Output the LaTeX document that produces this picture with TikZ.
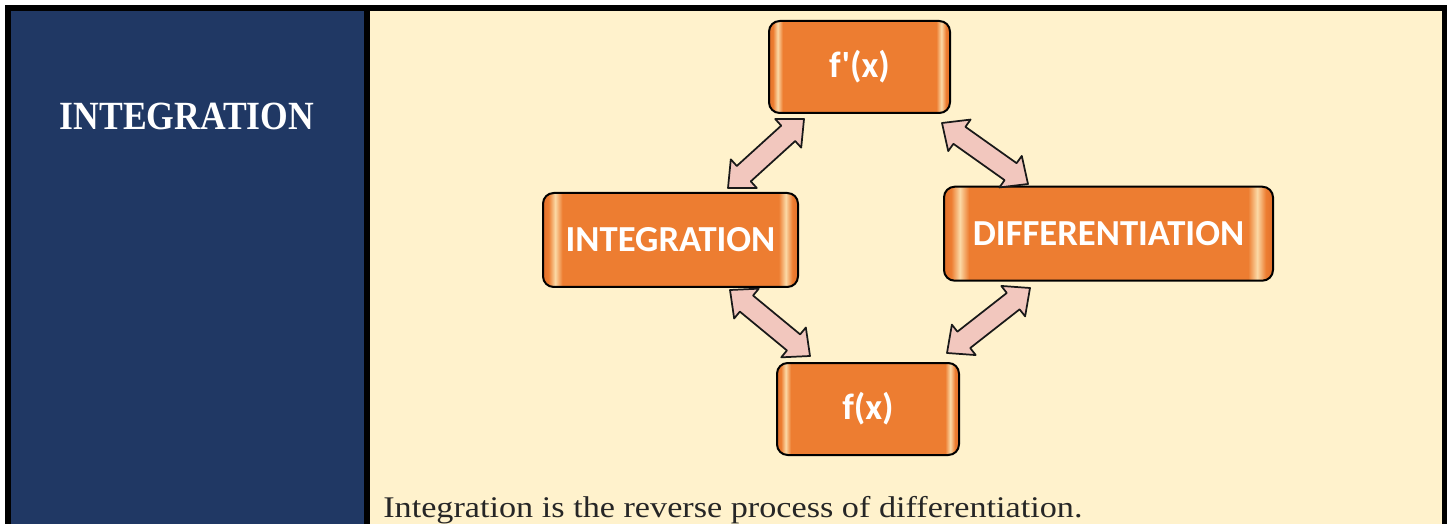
\documentclass[tikz,border=0pt]{standalone}
\usepackage{fontspec}
\setmainfont{Liberation Serif}
\newfontfamily\boxfont{Carlito}
\newfontfamily\headfont{Liberation Serif}[FakeStretch=0.89]
\newfontfamily\bodyfont{Liberation Serif}[FakeStretch=1.14]
\usetikzlibrary{calc}
\definecolor{navy}{HTML}{203864}
\definecolor{cream}{HTML}{FFF2CC}
\definecolor{boxor}{HTML}{ED7D31}
\definecolor{boxlt}{HTML}{FBD9A6}
\definecolor{boxdk}{HTML}{E2702A}
\definecolor{arrpink}{HTML}{F2C7BE}
\pgfdeclarehorizontalshading{boxsh}{100bp}{color(0bp)=(boxor); color(25bp)=(boxdk); color(26.1bp)=(boxor); color(27.4bp)=(boxlt); color(28.8bp)=(boxor); color(71.2bp)=(boxor); color(72.6bp)=(boxlt); color(73.9bp)=(boxor); color(75bp)=(boxdk); color(100bp)=(boxor)}
\newcommand\blockarrow[2]{%
  \draw[arrowstyle] (#1)
    -- ($(#1)!16pt!(#2)!14.5pt!90:(#2)$)
    -- ($(#1)!16pt!(#2)!7.8pt!90:(#2)$)
    -- ($(#2)!16pt!(#1)!7.8pt!-90:(#1)$)
    -- ($(#2)!16pt!(#1)!14.5pt!-90:(#1)$)
    -- (#2)
    -- ($(#2)!16pt!(#1)!14.5pt!90:(#1)$)
    -- ($(#2)!16pt!(#1)!7.8pt!90:(#1)$)
    -- ($(#1)!16pt!(#2)!7.8pt!-90:(#2)$)
    -- ($(#1)!16pt!(#2)!14.5pt!-90:(#2)$)
    -- cycle;}
\begin{document}
\begin{tikzpicture}[x=0.75pt,y=-0.75pt,
  boxnode/.style={draw=black, line width=1.5pt, rounded corners=8pt, shading=boxsh,
    text=white, inner sep=0pt, font=\boxfont\bfseries\fontsize{27.5}{30}\selectfont},
  arrowstyle/.style={draw=black!90, line width=1.3pt, fill=arrpink, line join=round}]
\useasboundingbox (0,0) rectangle (1447,524);
\fill[white] (0,0) rectangle (1447,524);
\fill[black] (5,5) rectangle (1452,530);
\fill[navy] (11,11) rectangle (364,530);
\fill[cream] (370,11) rectangle (1442,530);
% title
\node[anchor=base, text=white, inner sep=0pt,
  font=\headfont\bfseries\fontsize{30}{32}\selectfont] (title) at (187,130) {INTEGRATION};
% boxes
\node[boxnode, minimum width=181*0.75pt, minimum height=92*0.75pt] (fp) at (859.5,67) {f'(x)};
\node[boxnode, minimum width=255*0.75pt, minimum height=94*0.75pt] (integ) at (670.5,240) {INTEGRATION};
\node[boxnode, minimum width=329*0.75pt, minimum height=94*0.75pt] (diff) at (1108.5,233.7) {DIFFERENTIATION};
\node[boxnode, minimum width=182*0.75pt, minimum height=92*0.75pt] (fx) at (868,409) {f(x)};
% arrow end points
\coordinate (a1s) at (728,188); \coordinate (a1e) at (804,119);
\coordinate (a2s) at (942,123); \coordinate (a2e) at (1028,184);
\coordinate (a3s) at (730,290); \coordinate (a3e) at (810,356);
\coordinate (a4s) at (1030,288); \coordinate (a4e) at (947,353);
\blockarrow{a1s}{a1e}
\blockarrow{a2s}{a2e}
\blockarrow{a3s}{a3e}
\blockarrow{a4s}{a4e}
% description
\node[anchor=base west, inner sep=0pt, text=black!85,
  font=\bodyfont\fontsize{22.5}{24}\selectfont] (desc) at (383,517)
  {Integration is the reverse process of differentiation.};
\end{tikzpicture}
\end{document}
